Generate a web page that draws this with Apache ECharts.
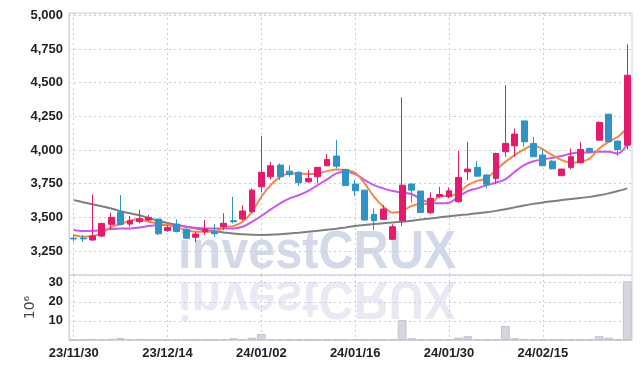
<!DOCTYPE html>
<html>
<head>
<meta charset="utf-8">
<script src="https://cdn.jsdelivr.net/npm/echarts@6/dist/echarts.min.js"></script>
<style>
  html, body { margin: 0; padding: 0; background: #fff; }
  #chart { width: 642px; height: 369px; }
</style>
</head>
<body>
<div id="chart"></div>
<script>
// 거래일 (23/11/30 ~ 24/02/28)
const dates = [
  '23/11/30', '23/12/01', '23/12/04', '23/12/05', '23/12/06', '23/12/07', '23/12/08', '23/12/11', '23/12/12', '23/12/13',
  '23/12/14', '23/12/15', '23/12/18', '23/12/19', '23/12/20', '23/12/21', '23/12/22', '23/12/26', '23/12/27', '23/12/28',
  '24/01/02', '24/01/03', '24/01/04', '24/01/05', '24/01/08', '24/01/09', '24/01/10', '24/01/11', '24/01/12', '24/01/15',
  '24/01/16', '24/01/17', '24/01/18', '24/01/19', '24/01/22', '24/01/23', '24/01/24', '24/01/25', '24/01/26', '24/01/29',
  '24/01/30', '24/01/31', '24/02/01', '24/02/02', '24/02/05', '24/02/06', '24/02/07', '24/02/08', '24/02/13', '24/02/14',
  '24/02/15', '24/02/16', '24/02/19', '24/02/20', '24/02/21', '24/02/22', '24/02/23', '24/02/26', '24/02/27', '24/02/28'
]

// 시가, 종가, 저가, 고가
const openPrices = [
  3345, 3345, 3332, 3361, 3448, 3537, 3450, 3468, 3480, 3487,
  3402, 3450, 3411, 3352, 3393, 3393, 3431, 3475, 3487, 3541,
  3727, 3801, 3888, 3843, 3834, 3764, 3801, 3883, 3955, 3856,
  3747, 3702, 3522, 3485, 3337, 3475, 3747, 3695, 3534, 3653,
  3653, 3616, 3838, 3871, 3814, 3789, 3987, 4031, 4216, 4049,
  3962, 3917, 3809, 3871, 3905, 4011, 4073, 4266, 4066, 4036
]
const closePrices = [
  3340, 3340, 3362, 3455, 3500, 3448, 3475, 3490, 3500, 3378,
  3425, 3395, 3345, 3376, 3413, 3378, 3456, 3468, 3547, 3702,
  3834, 3883, 3801, 3819, 3757, 3789, 3871, 3930, 3880, 3736,
  3697, 3480, 3475, 3562, 3430, 3739, 3702, 3536, 3641, 3670,
  3697, 3796, 3858, 3806, 3745, 3974, 4049, 4118, 4061, 3950,
  3883, 3860, 3858, 3950, 4004, 3987, 4204, 4061, 4004, 4555
]
const lowPrices = [
  3320, 3319, 3325, 3352, 3410, 3440, 3430, 3455, 3472, 3368,
  3393, 3388, 3340, 3316, 3370, 3356, 3405, 3455, 3475, 3533,
  3685, 3782, 3777, 3801, 3735, 3757, 3752, 3880, 3863, 3732,
  3658, 3478, 3406, 3480, 3332, 3435, 3608, 3534, 3524, 3641,
  3641, 3608, 3777, 3804, 3715, 3752, 3950, 3950, 4024, 3948,
  3880, 3855, 3806, 3858, 3900, 3980, 4070, 4058, 3955, 4004
]
const highPrices = [
  3370, 3369, 3670, 3460, 3535, 3665, 3510, 3558, 3518, 3490,
  3443, 3485, 3425, 3393, 3480, 3448, 3530, 3652, 3590, 3715,
  4103, 3912, 3900, 3888, 3843, 3851, 3873, 3969, 4073, 3860,
  3777, 3706, 3567, 3591, 3448, 4390, 3752, 3697, 3685, 3727,
  3722, 3994, 4061, 3920, 3822, 3980, 4481, 4160, 4218, 4098,
  4004, 3925, 3862, 4011, 4061, 4020, 4214, 4268, 4070, 4785
]

// 이동평균선
const ma5 = [
  3369, 3356, 3361, 3381, 3430, 3450, 3475, 3485, 3467, 3455,
  3443, 3425, 3406, 3393, 3393, 3393, 3425, 3435, 3467, 3541,
  3653, 3739, 3801, 3826, 3826, 3821, 3826, 3843, 3856, 3851,
  3831, 3752, 3653, 3579, 3534, 3547, 3584, 3599, 3599, 3658,
  3658, 3683, 3739, 3771, 3789, 3851, 3912, 3962, 4004, 4036,
  4004, 3962, 3925, 3905, 3912, 3937, 4011, 4061, 4098, 4165
]
const ma20 = [
  3406, 3398, 3400, 3406, 3413, 3418, 3418, 3425, 3435, 3443,
  3443, 3443, 3430, 3423, 3418, 3418, 3418, 3418, 3430, 3467,
  3510, 3559, 3604, 3641, 3665, 3697, 3739, 3782, 3826, 3838,
  3821, 3777, 3739, 3715, 3695, 3683, 3673, 3635, 3608, 3604,
  3608, 3653, 3695, 3715, 3739, 3757, 3782, 3838, 3888, 3917,
  3930, 3942, 3955, 3974, 3982, 3982, 3987, 3987, 3974, 4043
]
const ma60 = [
  3628, 3612, 3597, 3582, 3566, 3545, 3530, 3515, 3495, 3475,
  3458, 3443, 3430, 3418, 3406, 3396, 3388, 3380, 3374, 3370,
  3369, 3370, 3374, 3380, 3386, 3393, 3400, 3408, 3416, 3425,
  3435, 3443, 3450, 3456, 3462, 3468, 3475, 3484, 3492, 3500,
  3508, 3515, 3522, 3530, 3538, 3548, 3560, 3574, 3588, 3600,
  3610, 3620, 3628, 3636, 3644, 3652, 3664, 3678, 3695, 3715
]

// 거래량 (백만)
const volumes = [
  0.1, 0.1, 0.5, 0.5, 0.6, 1.0, 0.5, 0.5, 0.1, 0.1,
  0.1, 0.5, 0.1, 0.1, 0.1, 0.1, 0.5, 0.9, 0.5, 1.2,
  3.1, 0.5, 0.5, 0.4, 0.4, 0.1, 0.1, 0.4, 0.4, 0.3,
  0.3, 0.3, 0.1, 0.4, 0.5, 10.4, 0.9, 0.4, 0.1, 0.4,
  0.5, 1.2, 2.0, 0.5, 0.1, 0.5, 7.3, 0.9, 0.5, 0.3,
  0.3, 0.1, 0.3, 0.3, 0.3, 0.4, 2.0, 1.2, 0.3, 30.7
]

const priceTicks = { min: 3072, max: 5017, step: 250 }
const volumeTicks = { min: 0, max: 34, step: 10 }

const LABEL_FONT = "'Liberation Sans', Arial, sans-serif"
const UP_COLOR = '#e31b6d'
const DOWN_COLOR = '#2f93c6'
const GRID_LINE = '#c9ccdc'

const candles = dates.map((d, i) => [openPrices[i], closePrices[i], lowPrices[i], highPrices[i]])

const chart = echarts.init(document.getElementById('chart'), null, { renderer: 'canvas' })

const dottedSplit = {
  show: true,
  lineStyle: { color: GRID_LINE, type: [2, 3], width: 1 }
}

const tickLabel = {
  color: '#222',
  fontFamily: LABEL_FONT,
  fontWeight: 'bold',
  fontSize: 13
}

const option = {
  animation: false,
  grid: [
    { left: 69, right: 10, top: 13, height: 262, show: true, borderColor: '#d4d5df', borderWidth: 1, backgroundColor: 'transparent' },
    { left: 69, right: 10, top: 275, height: 65, show: true, borderColor: '#d4d5df', borderWidth: 1, backgroundColor: 'transparent' }
  ],
  xAxis: [
    {
      type: 'category',
      gridIndex: 0,
      data: dates,
      boundaryGap: true,
      axisLine: { show: false },
      axisTick: { show: false },
      axisLabel: { show: false },
      splitLine: { ...dottedSplit, interval: 9, alignWithLabel: true }
    },
    {
      type: 'category',
      gridIndex: 1,
      data: dates,
      boundaryGap: true,
      axisLine: { show: true, lineStyle: { color: '#cfd0da' } },
      axisTick: { show: false, interval: 9, alignWithLabel: true },
      axisLabel: { ...tickLabel, interval: 9, margin: 7 },
      splitLine: { ...dottedSplit, interval: 9, alignWithLabel: true }
    }
  ],
  yAxis: [
    {
      type: 'value',
      gridIndex: 0,
      min: priceTicks.min,
      max: priceTicks.max,
      minInterval: priceTicks.step,
      maxInterval: priceTicks.step,
      splitNumber: 8,
      axisLine: { show: true, lineStyle: { color: '#cfd0da' } },
      axisTick: { show: false },
      axisLabel: {
        ...tickLabel,
        showMinLabel: false,
        showMaxLabel: false,
        margin: 6,
        formatter: v => v.toLocaleString('en-US')
      },
      splitLine: dottedSplit
    },
    {
      type: 'value',
      gridIndex: 1,
      min: volumeTicks.min,
      max: volumeTicks.max,
      interval: volumeTicks.step,
      name: '10⁶',
      nameLocation: 'middle',
      nameRotate: 90,
      nameGap: 21,
      nameTextStyle: { color: '#444', fontFamily: 'DejaVu Sans', fontSize: 14 },
      axisLine: { show: true, lineStyle: { color: '#cfd0da' } },
      axisTick: { show: false },
      axisLabel: {
        ...tickLabel,
        showMinLabel: false,
        showMaxLabel: false,
        margin: 6
      },
      splitLine: dottedSplit
    }
  ],
  graphic: [
    {
      type: 'text',
      z: -10,
      x: 178,
      y: 253,
      scaleX: 0.9,
      style: {
        text: 'investCRUX',
        font: 'bold 54px "Liberation Sans", Arial, sans-serif',
        fill: '#d3d9e9',
        align: 'left',
        verticalAlign: 'middle'
      }
    },
    {
      type: 'text',
      z: -10,
      x: 178,
      y: 297,
      scaleX: 0.9,
      scaleY: -1,
      style: {
        text: 'investCRUX',
        font: 'bold 54px "Liberation Sans", Arial, sans-serif',
        fill: '#e8e9f3',
        align: 'left',
        verticalAlign: 'middle'
      }
    }
  ],
  series: [
    {
      name: 'price',
      type: 'candlestick',
      xAxisIndex: 0,
      yAxisIndex: 0,
      data: candles,
      barWidth: '68%',
      itemStyle: {
        color: UP_COLOR,
        color0: DOWN_COLOR,
        borderColor: UP_COLOR,
        borderColor0: DOWN_COLOR,
        borderWidth: 1
      },
      z: 3
    },
    {
      name: 'MA60',
      type: 'line',
      xAxisIndex: 0,
      yAxisIndex: 0,
      data: ma60,
      symbol: 'none',
      smooth: 0.3,
      lineStyle: { color: '#7f7f7f', width: 2 },
      z: 2
    },
    {
      name: 'MA20',
      type: 'line',
      xAxisIndex: 0,
      yAxisIndex: 0,
      data: ma20,
      symbol: 'none',
      smooth: 0.3,
      lineStyle: { color: '#cc55ea', width: 2 },
      z: 2
    },
    {
      name: 'MA5',
      type: 'line',
      xAxisIndex: 0,
      yAxisIndex: 0,
      data: ma5,
      symbol: 'none',
      smooth: 0.3,
      lineStyle: { color: '#f2874a', width: 2 },
      z: 2
    },
    {
      name: 'volume',
      type: 'bar',
      xAxisIndex: 1,
      yAxisIndex: 1,
      data: volumes,
      barCategoryGap: '6%',
      itemStyle: { color: '#d6d6dd', borderColor: '#c2c2cb', borderWidth: 1 }
    }
  ]
}

chart.setOption(option)
</script>
</body>
</html>
